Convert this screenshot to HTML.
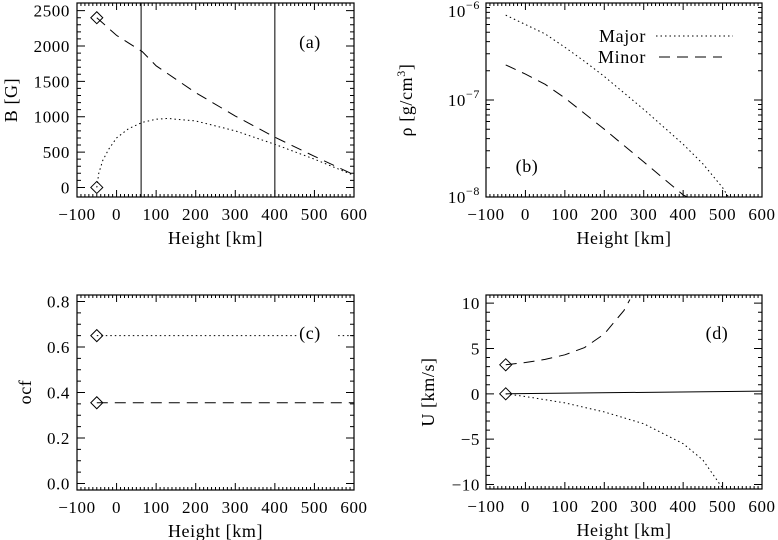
<!DOCTYPE html>
<html><head><meta charset="utf-8"><style>
html,body{margin:0;padding:0;background:#fff;}
svg{display:block;font-family:"Liberation Serif",serif;}
text{letter-spacing:0.6px;}
</style></head><body>
<svg id="fig" width="778" height="540" viewBox="0 0 778 540" xmlns="http://www.w3.org/2000/svg"></svg>
<script>
// ---- data ----
const xTicks = [-100,0,100,200,300,400,500,600];
const aMajorX = [-50,0,65,100,200,300,400,500,600];
const aMajorB = [2400,2150,1920,1720,1340,1010,710,440,180];
const aMinorX = [-50,-45,-35,-20,0,30,65,100,130,200,300,400,500,600];
const aMinorB = [0,200,380,540,700,830,920,965,975,940,800,610,400,170];
const aVLines = [62,400];
const aYTicks = [0,500,1000,1500,2000,2500];
const bMajorX = [-50,0,50,100,150,200,300,400,450,500,515];
const bMajorRho = [7.5e-7,6e-7,4.8e-7,3.5e-7,2.5e-7,1.75e-7,8e-8,3.5e-8,2.2e-8,1.25e-8,1e-8];
const bMinorX = [-50,0,50,100,200,300,400,410];
const bMinorRho = [2.3e-7,1.85e-7,1.45e-7,1.05e-7,5e-8,2.3e-8,1.05e-8,1e-8];
const bYTicks = [-8,-7,-6];
const cX = [-50,600];
const cMajor = [0.65,0.65];
const cMinor = [0.355,0.355];
const cYTicks = [0.0,0.2,0.4,0.6,0.8];
const cYLabels = ["0.0","0.2","0.4","0.6","0.8"];
const dMinorX = [-50,0,50,100,150,200,250,265];
const dMinorU = [3.2,3.45,3.8,4.3,5.1,6.6,9.2,10.4];
const dMajorX = [-50,0,100,200,300,400,450,500];
const dMajorU = [0,-0.3,-1.0,-2.0,-3.3,-5.5,-7.3,-10.4];
const dMeanX = [-50,600];
const dMeanU = [0,0.3];
const dYTicks = [-10,-5,0,5,10];

const svg = document.getElementById('fig');
const NS = 'http://www.w3.org/2000/svg';
const FS = 17;
function mk(tag, attrs, parent){const e=document.createElementNS(NS,tag);for(const k in attrs)e.setAttribute(k,attrs[k]);(parent||svg).appendChild(e);return e;}
function txt(x,y,s,anchor,parent,size){const t=mk('text',{x:x,y:y,'font-size':size||FS,'text-anchor':anchor||'middle',fill:'#000'},parent);t.textContent=s;return t;}

function panel(name,L,R,T,B,x0,x1,y0,y1,log){
  const g=mk('g',{});
  
  
  const sx=v=>L+(v-x0)/(x1-x0)*(R-L);
  const sy=log?(v=>B-(Math.log10(v)-y0)/(y1-y0)*(B-T)):(v=>B-(v-y0)/(y1-y0)*(B-T));
  return {g,sx,sy,L,R,T,B};
}
function frame(p,ymaj,yminStep,ylo,yhi,log){
  const f=mk('rect',{x:p.L,y:p.T,width:p.R-p.L,height:p.B-p.T,fill:'none',stroke:'#000','stroke-width':1.2},p.g);
  
  
  let d='';
  for(let v=-100;v<=600;v+=10){const x=p.sx(v);const len=(v%100===0)?7:3;d+=`M${x},${p.B}v${-len}M${x},${p.T}v${len}`;}
  if(log){
    for(let e=-8;e<-6;e++){for(let m=2;m<=9;m++){const y=p.sy(m*Math.pow(10,e));d+=`M${p.L},${y}h4M${p.R},${y}h-4`;}}
    for(const e of ymaj){const y=p.sy(Math.pow(10,e));d+=`M${p.L},${y}h8M${p.R},${y}h-8`;}
  } else {
    for(let v=ylo;v<=yhi+1e-9;v+=yminStep){const y=p.sy(v);d+=`M${p.L},${y}h4M${p.R},${y}h-4`;}
    for(const v of ymaj){const y=p.sy(v);d+=`M${p.L},${y}h8M${p.R},${y}h-8`;}
  }
  const t=mk('path',{d:d,stroke:'#000','stroke-width':1,fill:'none'},p.g);
  
  
  const xl=mk('g',{},p.g);
  
  
  for(const v of xTicks){txt(p.sx(v),p.B+23,v<0?'\u2212'+Math.abs(v):String(v),'middle',xl);}
  const xt=txt((p.L+p.R)/2,p.B+47,'Height [km]','middle',p.g,18);
  
  
}
function line(p,xs,ys,dash,name){
  let d='';xs.forEach((x,i)=>{d+=(i?'L':'M')+p.sx(x)+','+p.sy(ys[i]);});
  const e=mk('path',{d:d,fill:'none',stroke:'#000','stroke-width':1,'stroke-dasharray':dash||'none'},p.g);
  
  
  return e;
}
function diamond(p,x,y){
  const cx=p.sx(x),cy=p.sy(y);
  const e=mk('path',{d:`M${cx-6},${cy}L${cx},${cy-6}L${cx+6},${cy}L${cx},${cy+6}Z`,fill:'none',stroke:'#000','stroke-width':1},p.g);
  
  
}
function ylab(p,x,vals,labels,log){
  const g=mk('g',{},p.g);
  
  
  vals.forEach((v,i)=>{
    if(log){let y=p.sy(Math.pow(10,v))+6;if(y<17)y=17;const t=mk('text',{x:x,y:y,'font-size':FS,'text-anchor':'end'},g);t.innerHTML='10<tspan font-size="12" dy="-8">\u2212'+Math.abs(v)+'</tspan>';}
    else txt(x,p.sy(v)+6,labels?labels[i]:(v<0?'\u2212'+Math.abs(v):String(v)),'end',g);
  });
}
function ytitle(p,x,y,html){
  const t=mk('text',{x:x,y:y,'font-size':18,'text-anchor':'middle',transform:`rotate(-90 ${x} ${y})`},p.g);
  t.innerHTML=html;
  
  
}

// Panel a
const pa=panel('panel-a-field-strength',77,354,3,197,-100,600,-135,2608);
frame(pa,aYTicks,100,0,2500);
line(pa,aMajorX,aMajorB,'11,7','major-field-line');
line(pa,aMinorX,aMinorB,'1.5,3','minor-field-line');
aVLines.forEach(v=>{const l=mk('line',{x1:pa.sx(v),x2:pa.sx(v),y1:pa.T,y2:pa.B,stroke:'#000','stroke-width':1},pa.g);});
diamond(pa,aMajorX[0],aMajorB[0]);diamond(pa,aMinorX[0],aMinorB[0]);
ylab(pa,70,aYTicks);
ytitle(pa,17,100,'B [G]');
const la=txt(310,48,'(a)','middle',pa.g,18);

// Panel b
const pb=panel('panel-b-density',486,762,3,197,-100,600,-8,-6,true);
frame(pb,bYTicks,0,0,0,true);
line(pb,bMajorX,bMajorRho,'1.5,3','major-density-line');
line(pb,bMinorX,bMinorRho,'11,7','minor-density-line');
ylab(pb,480,bYTicks,null,true);
ytitle(pb,412,100,'\u03c1 [g/cm<tspan font-size="12" dy="-7">3</tspan><tspan dy="7">]</tspan>');
const lb=txt(527,172,'(b)','middle',pb.g,18);
const lg=mk('g',{},pb.g);
txt(646,42,'Major','end',lg,18);
const l1=mk('line',{x1:656,x2:733,y1:36,y2:36,stroke:'#000','stroke-dasharray':'1.5,3'},lg);
txt(646,63,'Minor','end',lg,18);
const l2=mk('line',{x1:659,x2:722,y1:57,y2:57,stroke:'#000','stroke-dasharray':'11,7'},lg);

// Panel c
const pc=panel('panel-c-filling-factor',77,354,295,490,-100,600,-0.0286,0.8286);
frame(pc,cYTicks,0.05,0,0.8);
line(pc,[cX[0],455],[cMajor[0],cMajor[0]],'1.5,3','major-ocf-line');
line(pc,[560,cX[1]],[cMajor[0],cMajor[1]],'1.5,3','major-ocf-line-end');
line(pc,cX,cMinor,'11,7','minor-ocf-line');
diamond(pc,cX[0],cMajor[0]);diamond(pc,cX[0],cMinor[0]);
ylab(pc,70,cYTicks,cYLabels);
ytitle(pc,31,392,'ocf');
const lc=txt(310,339,'(c)','middle',pc.g,18);

// Panel d
const pd=panel('panel-d-velocity',486,762,295,489,-100,600,-10.5,10.9);
frame(pd,dYTicks,1,-10,10);
const clip=mk('clipPath',{id:'clipd'},svg);mk('rect',{x:486,y:295,width:276,height:194},clip);
const dg=mk('g',{'clip-path':'url(#clipd)'},pd.g);
const pdc=Object.assign({},pd,{g:dg});
line(pdc,dMinorX,dMinorU,'11,7','minor-velocity-line');
line(pdc,dMajorX,dMajorU,'1.5,3','major-velocity-line');
line(pdc,dMeanX,dMeanU,null,'mean-velocity-line');
diamond(pd,dMinorX[0],dMinorU[0]);diamond(pd,dMajorX[0],dMajorU[0]);
ylab(pd,480,dYTicks);
ytitle(pd,434,392,'U [km/s]');
const ld=txt(717,339,'(d)','middle',pd.g,18);
</script>
</body></html>
